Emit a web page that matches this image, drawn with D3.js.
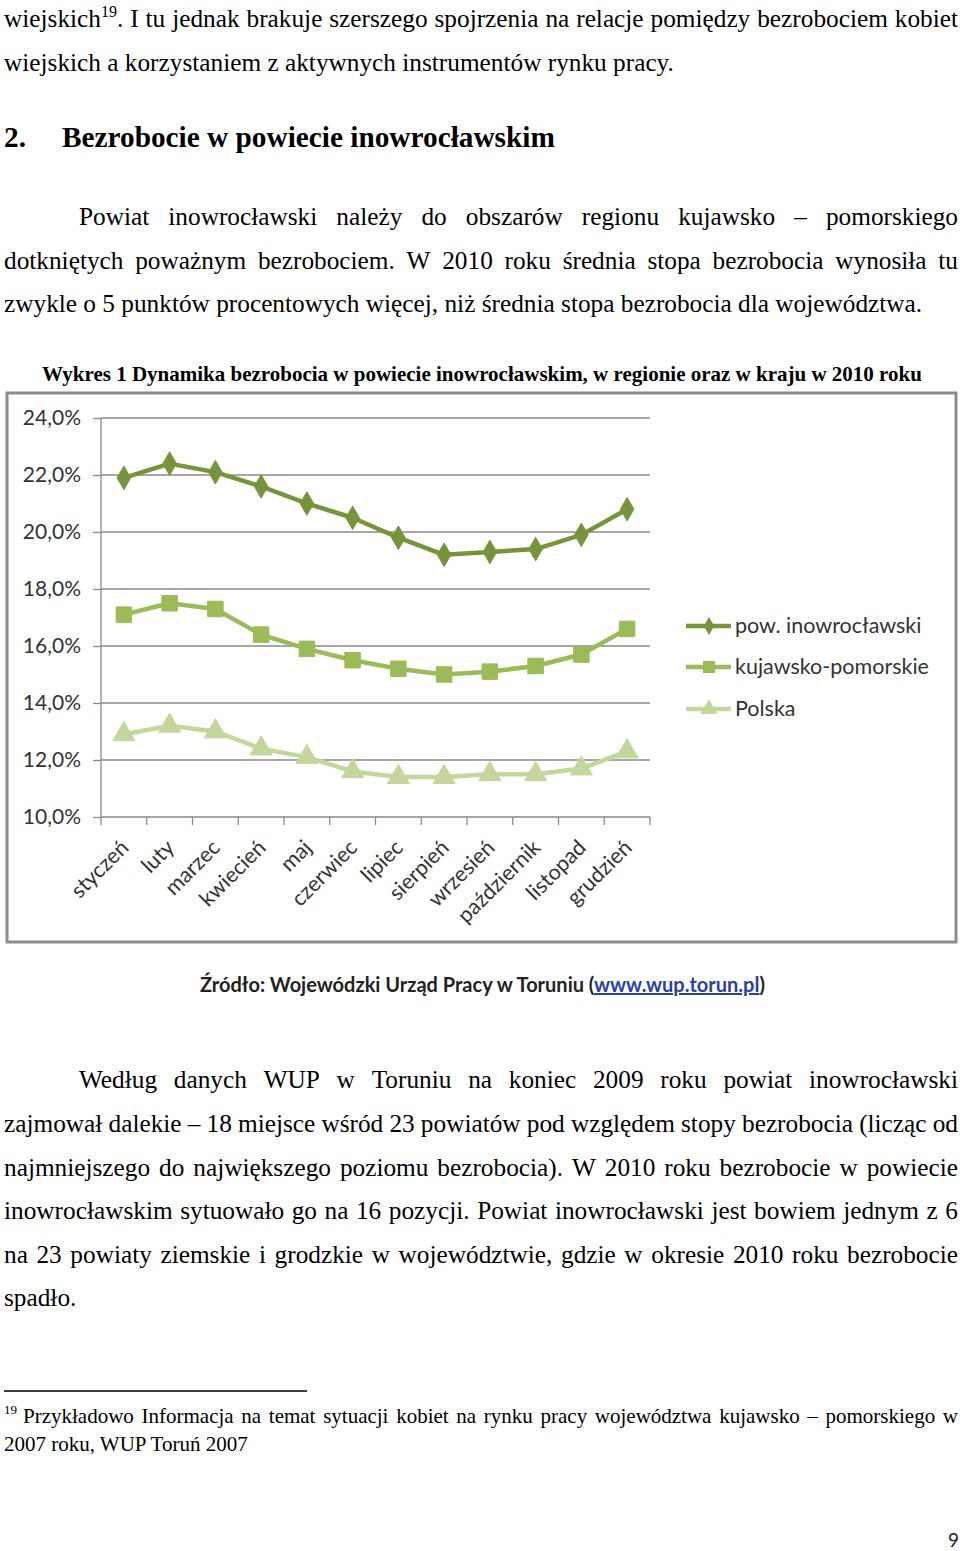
<!DOCTYPE html>
<html><head><meta charset="utf-8">
<script src="https://cdn.jsdelivr.net/npm/d3@7"></script>
<style>
html,body{margin:0;padding:0;background:#fff;}
svg{display:block;}
</style></head>
<body>
<svg id="page" width="960" height="1551"></svg>
<script>
// ---------- DATA ----------
const months = ["styczeń","luty","marzec","kwiecień","maj","czerwiec","lipiec","sierpień","wrzesień","październik","listopad","grudzień"];
const seriesNames = ["pow. inowrocławski","kujawsko-pomorskie","Polska"];
const powiat = [21.9,22.4,22.1,21.6,21.0,20.5,19.8,19.2,19.3,19.4,19.9,20.8];
const region = [17.1,17.5,17.3,16.4,15.9,15.5,15.2,15.0,15.1,15.3,15.7,16.6];
const polska = [12.9,13.2,13.0,12.4,12.1,11.6,11.4,11.4,11.5,11.5,11.7,12.3];
const yTicks = [10,12,14,16,18,20,22,24];
const yTickLabels = ["10,0%","12,0%","14,0%","16,0%","18,0%","20,0%","22,0%","24,0%"];

const chartTitle = "Wykres 1 Dynamika bezrobocia w powiecie inowrocławskim, w regionie oraz w kraju w 2010 roku";
const sourceText = "Źródło: Wojewódzki Urząd Pracy w Toruniu (";
const sourceLink = "www.wup.torun.pl";
const headingNum = "2.";
const headingText = "Bezrobocie w powiecie inowrocławskim";
const para0 = ["I tu jednak brakuje szerszego spojrzenia na relacje pomiędzy bezrobociem kobiet",
               "wiejskich a korzystaniem z aktywnych instrumentów rynku pracy."];
const para1 = ["Powiat inowrocławski należy do obszarów regionu kujawsko – pomorskiego",
               "dotkniętych poważnym bezrobociem. W 2010 roku średnia stopa bezrobocia wynosiła tu",
               "zwykle o 5 punktów procentowych więcej, niż średnia stopa bezrobocia dla województwa."];
const para2 = ["Według danych WUP w Toruniu na koniec 2009 roku powiat inowrocławski",
               "zajmował dalekie – 18 miejsce wśród 23 powiatów pod względem stopy bezrobocia (licząc od",
               "najmniejszego do największego poziomu bezrobocia). W 2010 roku bezrobocie w powiecie",
               "inowrocławskim sytuowało go na 16 pozycji. Powiat inowrocławski jest bowiem jednym z 6",
               "na 23 powiaty ziemskie i grodzkie w województwie, gdzie w okresie 2010 roku bezrobocie",
               "spadło."];
const footnote = ["Przykładowo Informacja na temat sytuacji kobiet na rynku pracy województwa kujawsko – pomorskiego w",
                  "2007 roku, WUP Toruń 2007"];

// ---------- PAGE TEXT ----------
const svg = d3.select("#page");
const serif = "'Liberation Serif','Times New Roman',serif";
const sans = "Lato, 'Open Sans', sans-serif";

function measure(str, size, weight, family){
  const t = svg.append("text").attr("font-family",family).attr("font-size",size).attr("font-weight",weight||"normal").text(str);
  const w = t.node().getComputedTextLength(); t.remove(); return w;
}
function textLine(str, x0, x1, y, size, opts){
  opts = opts||{};
  const fam = opts.family||serif, wt = opts.weight||"normal";
  const words = str.split(" ");
  const g = svg.append("g").attr("font-family",fam).attr("font-size",size).attr("font-weight",wt).attr("fill","#000");
  if(!opts.justify || words.length<2){
    g.append("text").attr("x",x0).attr("y",y).text(str); return;
  }
  const ws = words.map(w=>measure(w,size,wt,fam));
  const gap = (x1-x0-d3.sum(ws))/(words.length-1);
  let x = x0;
  words.forEach((w,i)=>{ g.append("text").attr("x",x).attr("y",y).text(w); x += ws[i]+gap; });
}
const FS = 25.3;
// line 1 with superscript
(function(){
  const w1 = measure("wiejskich",FS,"normal",serif);
  svg.append("text").attr("x",4).attr("y",27).attr("font-family",serif).attr("font-size",FS).text("wiejskich");
  svg.append("text").attr("x",4+w1).attr("y",17).attr("font-family",serif).attr("font-size",16).text("19");
  const w2 = measure("19",16,"normal",serif);
  textLine("."+" "+para0[0], 4+w1+w2, 958, 27, FS, {justify:true});
})();
textLine(para0[1], 4, 958, 71, FS);
// heading
svg.append("text").attr("x",4).attr("y",147).attr("font-family",serif).attr("font-size",29.3).attr("font-weight","bold").text(headingNum);
svg.append("text").attr("x",62).attr("y",147).attr("font-family",serif).attr("font-size",29.3).attr("font-weight","bold").text(headingText);
textLine(para1[0], 79, 958, 225, FS, {justify:true});
textLine(para1[1], 4, 958, 269, FS, {justify:true});
textLine(para1[2], 4, 958, 312, FS);
svg.append("text").attr("x",482).attr("y",381).attr("text-anchor","middle").attr("font-family",serif)
  .attr("font-size",21).attr("font-weight","bold").text(chartTitle);

const p2y = [1088,1132,1176,1219,1263,1306];
para2.forEach((l,i)=>textLine(l, i===0?79:4, 958, p2y[i], FS, {justify: i<para2.length-1}));
svg.append("line").attr("x1",4).attr("x2",307).attr("y1",1391).attr("y2",1391).attr("stroke","#000").attr("stroke-width",1.5);
(function(){
  svg.append("text").attr("x",4).attr("y",1414).attr("font-family",serif).attr("font-size",13).text("19");
  const w = measure("19",13,"normal",serif);
  textLine(footnote[0], 4+w+6, 958, 1423, 21, {justify:true});
  textLine(footnote[1], 4, 958, 1451, 21);
})();
svg.append("text").attr("x",948).attr("y",1547).attr("font-family",sans).attr("font-size",19).attr("fill","#222").text("9");

// ---------- CHART ----------
svg.append("rect").attr("x",7).attr("y",393).attr("width",949).attr("height",549)
  .attr("fill","#fff").attr("stroke","#8c8c8c").attr("stroke-width",3);

const x = d3.scaleBand().domain(months).range([101,650]);
const y = d3.scaleLinear().domain([10,24]).range([817,418]);
const chart = svg.append("g");
const axisCol = "#8a8a8a", labelCol = "#333";

// gridlines
chart.append("g").selectAll("line").data(yTicks.filter(t=>t>10)).join("line")
  .attr("x1",101).attr("x2",650).attr("y1",d=>y(d)).attr("y2",d=>y(d))
  .attr("stroke",axisCol).attr("stroke-width",1.3);

// y axis
const yAxis = d3.axisLeft(y).tickValues(yTicks).tickSize(8).tickPadding(12)
  .tickFormat((d,i)=>yTickLabels[i]);
const yg = chart.append("g").attr("transform","translate(101,0)").call(yAxis);
yg.select(".domain").attr("stroke",axisCol).attr("stroke-width",1.3).attr("d","M0,"+y(24)+"V"+y(10));
yg.selectAll(".tick line").attr("stroke",axisCol).attr("stroke-width",1.3);
yg.selectAll(".tick text").attr("font-family",sans).attr("font-size",21).attr("fill",labelCol);

// x axis
const xg = chart.append("g").attr("transform","translate(0,"+y(10)+")");
xg.append("line").attr("x1",101).attr("x2",650).attr("stroke",axisCol).attr("stroke-width",1.3);
const bounds = d3.range(months.length+1).map(i=> i<months.length ? x(months[i]) : x(months[months.length-1])+x.bandwidth());
xg.selectAll(".xt").data(bounds).join("line").attr("class","xt")
  .attr("x1",d=>d).attr("x2",d=>d).attr("y1",0).attr("y2",8).attr("stroke",axisCol).attr("stroke-width",1.3);
xg.selectAll(".xl").data(months).join("text").attr("class","xl")
  .attr("transform",d=>"translate("+(x(d)+x.bandwidth()/2+6)+",32) rotate(-45)")
  .attr("text-anchor","end").attr("font-family",sans).attr("font-size",21.5).attr("fill",labelCol)
  .text(d=>d);

const colors = ["#77933C","#9BBB59","#C3D69B"];
const data = [powiat, region, polska];
const cx = i => x(months[i]) + x.bandwidth()/2;
const line = d3.line().x((d,i)=>cx(i)).y(d=>y(d));
const symbols = [d3.symbolDiamond, d3.symbolSquare, d3.symbolTriangle];
const symSize = [160, 240, 210];

data.forEach((s,k)=>{
  chart.append("path").datum(s).attr("d",line).attr("fill","none")
    .attr("stroke",colors[k]).attr("stroke-width",4.5).attr("stroke-linejoin","round");
  chart.append("g").selectAll("path").data(s).join("path")
    .attr("transform",(d,i)=>"translate("+cx(i)+","+y(d)+")")
    .attr("d",d3.symbol().type(symbols[k]).size(symSize[k]))
    .attr("fill",colors[k]).attr("stroke",colors[k]).attr("stroke-width",1);
});

// legend
const leg = chart.append("g");
const legY = [626,667,709];
seriesNames.forEach((n,k)=>{
  leg.append("line").attr("x1",686).attr("x2",731).attr("y1",legY[k]).attr("y2",legY[k])
    .attr("stroke",colors[k]).attr("stroke-width",4.5);
  leg.append("path").attr("transform","translate(709,"+legY[k]+")")
    .attr("d",d3.symbol().type(symbols[k]).size(symSize[k]*0.6)).attr("fill",colors[k]);
  leg.append("text").attr("x",735).attr("y",legY[k]+7).attr("font-family",sans).attr("font-size",21.5)
    .attr("fill",labelCol).text(n);
});

// source
const src = svg.append("text").attr("x",200).attr("y",992).attr("font-family",sans).attr("font-size",20).attr("font-weight","bold").attr("fill","#222");
src.append("tspan").text(sourceText);
src.append("tspan").attr("fill","#2a3fa8").attr("text-decoration","underline").text(sourceLink);
src.append("tspan").text(")");
</script>
</body></html>
